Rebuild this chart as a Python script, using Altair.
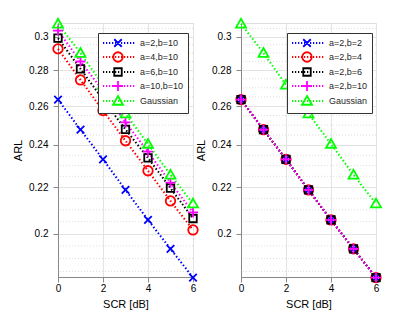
import altair as alt
import pandas as pd

# ---------------- data ----------------
scr = [0, 1, 2, 3, 4, 5, 6]

# left panel
arl_a2_b10 = [0.2635, 0.2477, 0.2330, 0.2188, 0.2057, 0.1938, 0.1827]
arl_a4_b10 = [0.2925, 0.2744, 0.2576, 0.2421, 0.2276, 0.2139, 0.2015]
arl_a6_b10 = [0.2990, 0.2807, 0.2635, 0.2478, 0.2337, 0.2196, 0.2063]
arl_a10_b10 = [0.3037, 0.2850, 0.2684, 0.2514, 0.2367, 0.2221, 0.2089]
arl_gauss = [0.3080, 0.2900, 0.2716, 0.2560, 0.2405, 0.2257, 0.2127]

# right panel
arl_a2_b2 = [0.2635, 0.2477, 0.2330, 0.2188, 0.2057, 0.1938, 0.1827]
arl_a2_b4 = [0.2635, 0.2477, 0.2330, 0.2188, 0.2057, 0.1938, 0.1827]
arl_a2_b6 = [0.2635, 0.2477, 0.2330, 0.2188, 0.2057, 0.1938, 0.1827]
arl_a2_b10_r = [0.2635, 0.2477, 0.2330, 0.2188, 0.2057, 0.1938, 0.1827]

left_names = ["a=2,b=10", "a=4,b=10", "a=6,b=10", "a=10,b=10", "Gaussian"]
left_series = [arl_a2_b10, arl_a4_b10, arl_a6_b10, arl_a10_b10, arl_gauss]
right_names = ["a=2,b=2", "a=2,b=4", "a=2,b=6", "a=2,b=10", "Gaussian"]
right_series = [arl_a2_b2, arl_a2_b4, arl_a2_b6, arl_a2_b10_r, arl_gauss]

y_ticks = [0.2, 0.22, 0.24, 0.26, 0.28, 0.3]
y_minor = [0.185, 0.19, 0.195, 0.205, 0.21, 0.215, 0.225, 0.23, 0.235,
           0.245, 0.25, 0.255, 0.265, 0.27, 0.275, 0.285, 0.29, 0.295, 0.305]
x_ticks = [0, 2, 4, 6]
y_domain = [0.1829, 0.3085]
x_domain = [0, 6]

# ---------------- style ----------------
colors = ["#0000ff", "#ff0000", "#000000", "#ff00ff", "#00ff00"]
markers = [
    "M-0.75,-0.75L0.75,0.75M-0.75,0.75L0.75,-0.75",          # x
    "M0.95,0A0.95,0.95,0,1,1,-0.95,0A0.95,0.95,0,1,1,0.95,0Z",  # circle
    "M-0.75,-0.75H0.75V0.75H-0.75Z",                          # square
    "M-1,0H1M0,-1V1",                                          # plus
    "M0,-1L1,0.75L-1,0.75Z",                                  # triangle
]
dots = "".join(f"M{-3 + 0.6 * i:.2f},0h0.25" for i in range(11))
legend_symbols = [m + dots for m in markers]

FONT = "Liberation Sans"
TXT = "#262626"
W, H = 135, 254


def panel(names, series, leg_x):
    rows = []
    for k, (n, vals) in enumerate(zip(names, series)):
        for xv, yv in zip(scr, vals):
            rows.append({"scr": xv, "arl": yv, "series": n, "k": k})
    df = pd.DataFrame(rows)

    xscale = alt.Scale(domain=x_domain, nice=False, zero=False)
    yscale = alt.Scale(type="log", domain=y_domain, nice=False)
    xaxis = alt.Axis(values=x_ticks, title="SCR [dB]", grid=True,
                     gridColor="#e3e3e3", labelPadding=1, titlePadding=5,
                     labelFlush=False, titleFontWeight="normal")
    yaxis = alt.Axis(values=y_ticks, format="~g", title="ARL", grid=True,
                     gridColor="#e3e3e3", labelPadding=5, titlePadding=5,
                     titleFontWeight="normal")
    xenc = alt.X("scr:Q", scale=xscale, axis=xaxis)
    yenc = alt.Y("arl:Q", scale=yscale, axis=yaxis)

    minor = alt.Chart(pd.DataFrame({"arl": y_minor})).mark_rule(
        color="#dedede", strokeDash=[1, 2], strokeWidth=1
    ).encode(y=yenc)

    cscale = alt.Scale(domain=names, range=colors)
    sscale = alt.Scale(domain=names, range=markers)

    base = alt.Chart(df)
    lines = base.mark_line(strokeDash=[1.5, 2.2], strokeWidth=2).encode(
        x=xenc, y=yenc,
        color=alt.Color("series:N", scale=cscale, legend=None),
        detail="series:N",
        order="scr:Q",
    )
    pts = base.mark_point(filled=False, size=100, strokeWidth=1.8, opacity=1).encode(
        x=xenc, y=yenc,
        color=alt.Color("series:N", scale=cscale, legend=None),
        shape=alt.Shape("series:N", scale=sscale, legend=None),
        order="k:Q",
    )

    legend = alt.Legend(
        title=None, orient="none", legendX=leg_x, legendY=10,
        fillColor="white", strokeColor="#333333", padding=4,
        symbolSize=100, symbolStrokeWidth=1.8, symbolOffset=10,
        labelOffset=16, rowPadding=-5.5, labelFont=FONT, labelFontSize=9,
        labelColor=TXT, symbolOpacity=1, symbolFillColor="transparent",
    )
    leg_layer = base.transform_filter("false").mark_point(filled=False, size=100).encode(
        x=xenc, y=yenc,
        color=alt.Color("series:N", scale=alt.Scale(domain=names, range=colors), legend=legend),
        shape=alt.Shape("series:N", scale=alt.Scale(domain=names, range=legend_symbols), legend=legend),
    )
    main = alt.layer(minor, lines, pts)
    return alt.layer(main, leg_layer, width=W, height=H).resolve_scale(
        color="independent", shape="independent"
    )


left = panel(left_names, left_series, 40)
right = panel(right_names, right_series, 46)

chart = alt.hconcat(left, right, spacing=48, bounds="flush").resolve_scale(
    color="independent", shape="independent"
).properties(
    padding={"left": 4, "top": 6, "right": 10, "bottom": 25},
).configure_view(stroke="#7a7a7a", strokeWidth=1).configure_axis(
    domain=False, ticks=False, tickSize=0,
    labelFont=FONT, labelFontSize=9.5, labelColor=TXT,
    titleFont=FONT, titleFontSize=10.5, titleFontWeight="normal", titleColor=TXT,
).configure(background="white")

chart.save("out.html", embed_options={"renderer": "svg", "actions": False})
